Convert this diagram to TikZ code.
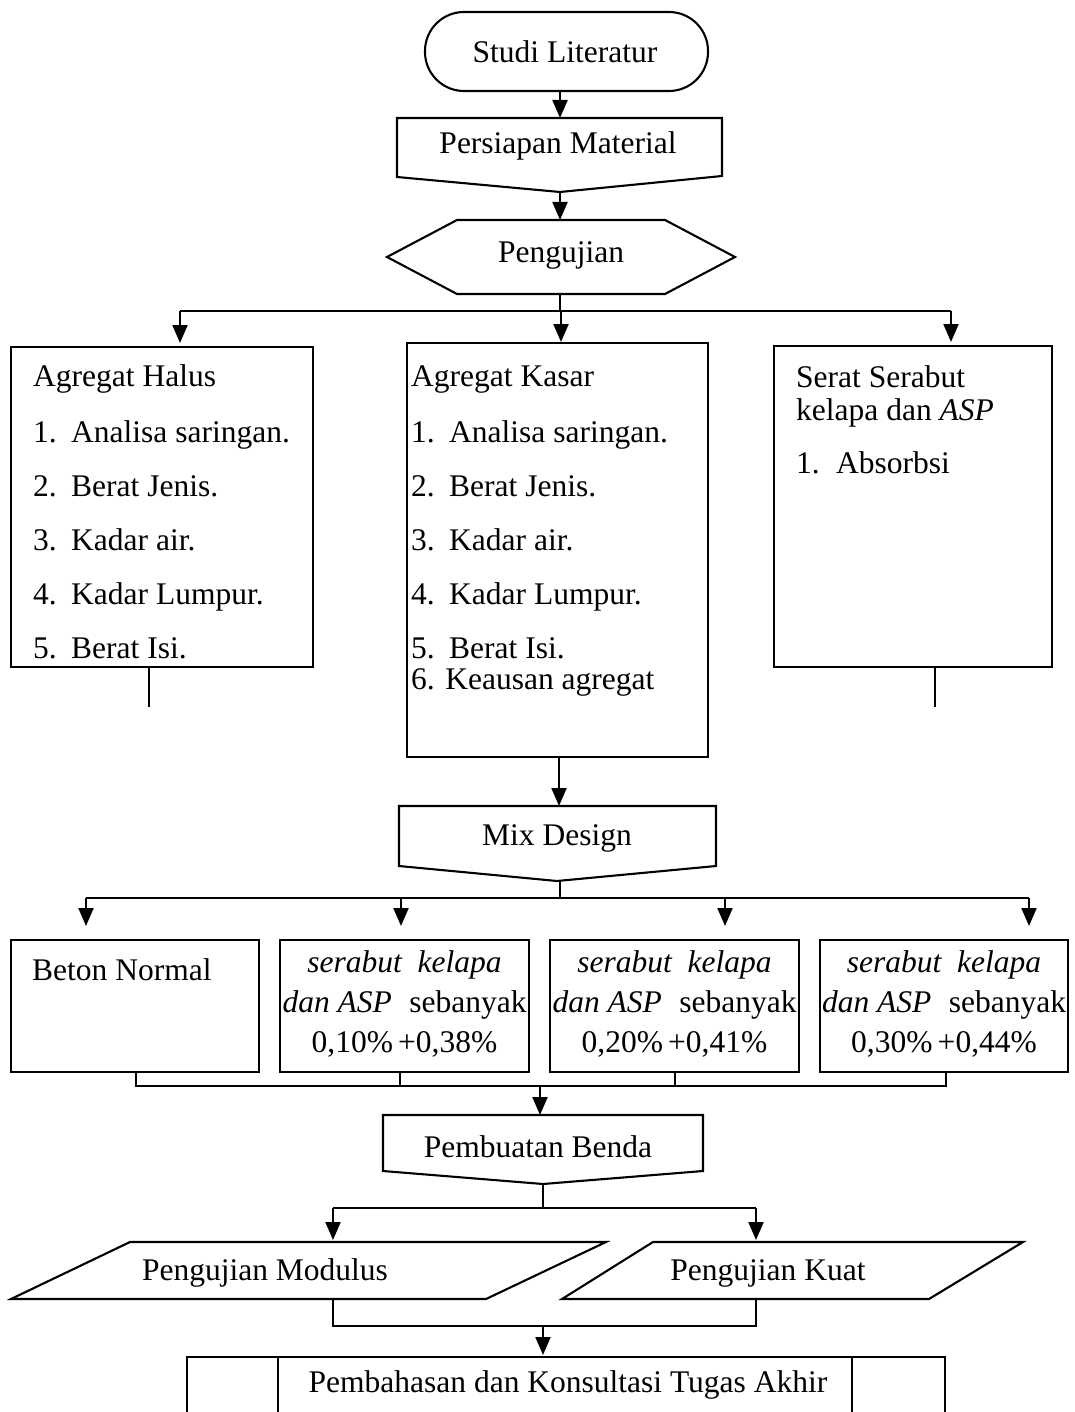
\documentclass[tikz,border=0pt]{standalone}
\usepackage{fontspec}
\setmainfont{Liberation Serif}
\usetikzlibrary{arrows.meta}

\tikzset{
  edge/.style={line width=2.1pt},
  arr/.style={line width=2.1pt, -{Triangle[length=18pt,width=15pt]}},
  lbl/.style={inner sep=0pt, font=\fontsize{31.5}{38}\selectfont},
  box/.style={draw, line width=2.1pt, inner sep=0pt, outer sep=0pt},
}
\newcommand{\itm}[2]{\makebox[38pt][l]{#1}#2}

\begin{document}
\begin{tikzpicture}[x=1pt,y=-1pt]
\useasboundingbox (0,0) rectangle (1074,1412);

% Define points
\coordinate (studiS) at (560,91);
\coordinate (pmN) at (560,118);
\coordinate (pmS) at (560,192);
\coordinate (pgN) at (560,220);
\coordinate (pgS) at (560,294);
\coordinate (brA) at (560,311);
\coordinate (brL) at (180,311);
\coordinate (brM) at (561,311);
\coordinate (brR) at (951,311);
\coordinate (mdN) at (559,806);
\coordinate (mdS) at (560,881);
\coordinate (brB) at (560,898);
\coordinate (m1) at (86,898);
\coordinate (m2) at (401,898);
\coordinate (m3) at (725,898);
\coordinate (m4) at (1029,898);
\coordinate (jn) at (540,1086);
\coordinate (pbN) at (540,1115);
\coordinate (pbS) at (543,1184);
\coordinate (brC) at (543,1208);
\coordinate (pL) at (333,1208);
\coordinate (pR) at (756,1208);
\coordinate (qL) at (333,1326);
\coordinate (qR) at (756,1326);
\coordinate (qM) at (543,1326);
\coordinate (akN) at (543,1357);

% Draw shapes
\draw[edge, rounded corners=39pt] (425,12) rectangle (708,91);
\draw[edge] (397,118) -- (722,118) -- (722,176) -- (560,192) -- (397,177) -- cycle;
\draw[edge] (387,257) -- (457,220) -- (665,220) -- (735,257) -- (665,294) -- (457,294) -- cycle;
\node[box, minimum width=302pt, minimum height=320pt] (ah) at (162,507) {};
\node[box, minimum width=301pt, minimum height=414pt] (ak) at (557.5,550) {};
\node[box, minimum width=278pt, minimum height=321pt] (ss) at (913,506.5) {};
\draw[edge] (399,806) -- (716,806) -- (716,866) -- (557,881) -- (399,866) -- cycle;
\node[box, minimum width=248pt, minimum height=132pt] (b1) at (135,1006) {};
\node[box, minimum width=249pt, minimum height=132pt] (b2) at (404.5,1006) {};
\node[box, minimum width=249pt, minimum height=132pt] (b3) at (674.5,1006) {};
\node[box, minimum width=248pt, minimum height=132pt] (b4) at (944,1006) {};
\draw[edge] (383,1115) -- (703,1115) -- (703,1171) -- (543,1184) -- (383,1171) -- cycle;
\draw[edge] (130,1242) -- (606,1242) -- (486,1299) -- (11,1299) -- cycle;
\draw[edge] (653,1242) -- (1023,1242) -- (929,1299) -- (562,1299) -- cycle;
\draw[edge] (187,1412) -- (187,1357) -- (945,1357) -- (945,1412);
\draw[edge] (278,1357) -- (278,1412);
\draw[edge] (852,1357) -- (852,1412);

% Labels
\node[lbl] (tStudi) at (565,52) {Studi Literatur};
\node[lbl] (tPersiapan) at (558,146) {Persiapan Material};
\node[lbl] (tUji) at (561,255) {Pengujian};
\node[lbl, anchor=base west, font=\fontsize{31.5}{54}\selectfont] (tHalus) at (33,386)
  {\begin{tabular}[t]{@{}l@{}}Agregat Halus\\[2pt]
   \itm{1.}{Analisa saringan.}\\ \itm{2.}{Berat Jenis.}\\ \itm{3.}{Kadar air.}\\
   \itm{4.}{Kadar Lumpur.}\\ \itm{5.}{Berat Isi.}\end{tabular}};
\node[lbl, anchor=base west, font=\fontsize{31.5}{54}\selectfont] (tKasar) at (411,386)
  {\begin{tabular}[t]{@{}l@{}}Agregat Kasar\\[2pt]
   \itm{1.}{Analisa saringan.}\\ \itm{2.}{Berat Jenis.}\\ \itm{3.}{Kadar air.}\\
   \itm{4.}{Kadar Lumpur.}\\ \itm{5.}{Berat Isi.}\\[-23pt] 6. Keausan agregat\end{tabular}};
\node[lbl, anchor=base west, font=\fontsize{31.5}{33}\selectfont] (tSerat) at (796,387)
  {\begin{tabular}[t]{@{}l@{}}Serat Serabut\\ kelapa dan \textit{ASP}\\[20pt]
   \makebox[40pt][l]{1.}Absorbsi\end{tabular}};
\node[lbl] (tMix) at (557,838) {Mix Design};
\node[lbl, anchor=west] (tNormal) at (32,970) {Beton Normal};
\node[lbl, font=\fontsize{31.5}{40}\selectfont] (tVar1) at (404.5,1004)
  {\begin{tabular}{@{}c@{}}\textit{serabut\ \ kelapa}\\
   \makebox[244pt]{\textit{dan ASP}\hfill sebanyak}\\ 0,10\%\,+0,38\%\end{tabular}};
\node[lbl, font=\fontsize{31.5}{40}\selectfont] (tVar2) at (674.5,1004)
  {\begin{tabular}{@{}c@{}}\textit{serabut\ \ kelapa}\\
   \makebox[244pt]{\textit{dan ASP}\hfill sebanyak}\\ 0,20\%\,+0,41\%\end{tabular}};
\node[lbl, font=\fontsize{31.5}{40}\selectfont] (tVar3) at (944,1004)
  {\begin{tabular}{@{}c@{}}\textit{serabut\ \ kelapa}\\
   \makebox[244pt]{\textit{dan ASP}\hfill sebanyak}\\ 0,30\%\,+0,44\%\end{tabular}};
\node[lbl] (tBenda) at (538,1147) {Pembuatan Benda};
\node[lbl] (tModulus) at (265,1273) {Pengujian Modulus};
\node[lbl] (tKuat) at (768,1273) {Pengujian Kuat};
\node[lbl] (tBahas) at (568,1385) {Pembahasan dan Konsultasi Tugas Akhir};

% Draw connectors
\draw[arr] (studiS) -- (pmN);
\draw[arr] (pmS) -- (pgN);
\draw[edge] (pgS) -- (brA);
\draw[edge] (brL) -- (brR);
\draw[arr, shorten >=4pt] (brL) -- (brL |- ah.north);
\draw[arr, shorten >=1pt] (brM) -- (brM |- ak.north);
\draw[arr, shorten >=4pt] (brR) -- (brR |- ss.north);
\draw[edge] (ah.south -| 149,0) -- ++(0,40);
\draw[edge] (ss.south -| 935,0) -- ++(0,40);
\draw[arr] (ak.south -| mdN) -- (mdN);
\draw[edge] (mdS) -- (brB);
\draw[edge] (m1) -- (m4);
\draw[arr, shorten >=14pt] (m1) -- (m1 |- b1.north);
\draw[arr, shorten >=14pt] (m2) -- (m2 |- b2.north);
\draw[arr, shorten >=14pt] (m3) -- (m3 |- b3.north);
\draw[arr, shorten >=14pt] (m4) -- (m4 |- b4.north);
\draw[edge] (b1.south -| 136,0) -- ++(0,14) -| (b4.south -| 946,0);
\draw[edge] (b2.south -| 400,0) -- ++(0,14);
\draw[edge] (b3.south -| 675,0) -- ++(0,14);
\draw[arr] (jn) -- (pbN);
\draw[edge] (pbS) -- (brC);
\draw[edge] (pL) -- (pR);
\draw[arr, shorten >=2pt] (pL) -- ++(0,34);
\draw[arr, shorten >=2pt] (pR) -- ++(0,34);
\draw[edge] (333,1299) -- (qL) -- (qR) -- (756,1299);
\draw[arr, shorten >=2pt] (qM) -- (akN);

\end{tikzpicture}
\end{document}
